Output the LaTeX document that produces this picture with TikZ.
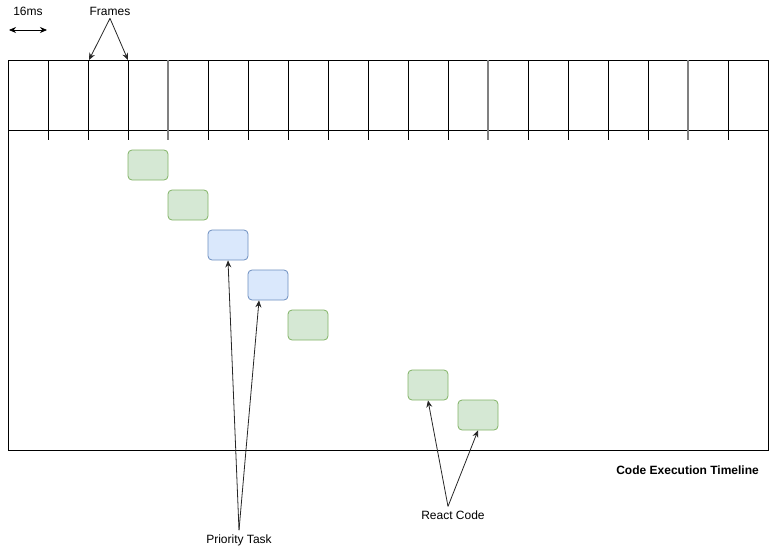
\documentclass[tikz,border=0pt]{standalone}
\usepackage{fontspec}
\setmainfont{Liberation Sans}
\usetikzlibrary{arrows.meta, positioning}
\definecolor{reactfill}{HTML}{D5E8D4}
\definecolor{reactdraw}{HTML}{82B366}
\definecolor{prioFill}{HTML}{DAE8FC}
\definecolor{prioDraw}{HTML}{6C8EBF}
\tikzset{
    reacttask/.style={rectangle, rounded corners=4pt, draw=reactdraw,
                      fill=reactfill, minimum width=40pt,
                      minimum height=30pt, line width=0.8pt},
    priotask/.style={rectangle, rounded corners=4pt, draw=prioDraw,
                     fill=prioFill, minimum width=40pt,
                     minimum height=30pt, line width=0.8pt},
    frameline/.style={line width=1pt, black},
    vsyncline/.style={line width=1.4pt, black!50},
    pointer/.style={-{Stealth[length=7pt, width=6pt]}, line width=0.8pt, black!85},
    caption/.style={font=\fontsize{12}{14}\selectfont, inner sep=1pt}
}
\begin{document}
\begin{tikzpicture}[x=1pt, y=-1pt]
    \useasboundingbox (0,0) rectangle (770,551);
    % timeline box and frame band
    \draw[frameline] (8,60) rectangle (768,450);
    \draw[frameline] (8,130) -- (768,130);
    \foreach \x in {48,88,128,208,248,288,328,368,408,448,528,568,608,648,728}
        \draw[frameline] (\x,60) -- (\x,140);
    \foreach \x in {168,488,688}
        \draw[vsyncline] (\x,60) -- (\x,140);
    % tasks
    \node[reacttask] (r1) at (148,165) {};
    \node[reacttask] (r2) at (188,205) {};
    \node[priotask]  (p1) at (228,245) {};
    \node[priotask]  (p2) at (268,285) {};
    \node[reacttask] (r3) at (308,325) {};
    \node[reacttask] (r4) at (428,385) {};
    \node[reacttask] (r5) at (478,415) {};
    % labels
    \node[caption] (ms) at (28,11) {16ms};
    \coordinate (msl) at (9,30);
    \coordinate (msr) at (47,30);
    \draw[{Stealth[length=7pt, width=6pt]}-{Stealth[length=7pt, width=6pt]}, line width=0.8pt] (msl) -- (msr);
    \node[caption] (frames) at (110,11) {Frames};
    \coordinate (f1) at (89,60);
    \coordinate (f2) at (128,60);
    \draw[pointer] ([yshift=-2pt]frames.south) -- (f1);
    \draw[pointer] ([yshift=-2pt]frames.south) -- (f2);
    \node[caption, font=\fontsize{12}{14}\selectfont\bfseries, anchor=east] (cet) at (760,470) {Code Execution Timeline};
    \node[caption] (prio) at (239,540) {Priority Task};
    \draw[pointer] ([yshift=3pt]prio.north) -- (p1.south);
    \draw[pointer] ([yshift=3pt]prio.north) -- ([xshift=-9pt]p2.south);
    \node[caption] (rc) at (453,515) {React Code};
    \draw[pointer] ([xshift=-5pt, yshift=3pt]rc.north) -- (r4.south);
    \draw[pointer] ([xshift=-5pt, yshift=3pt]rc.north) -- (r5.south);
\end{tikzpicture}
\end{document}
